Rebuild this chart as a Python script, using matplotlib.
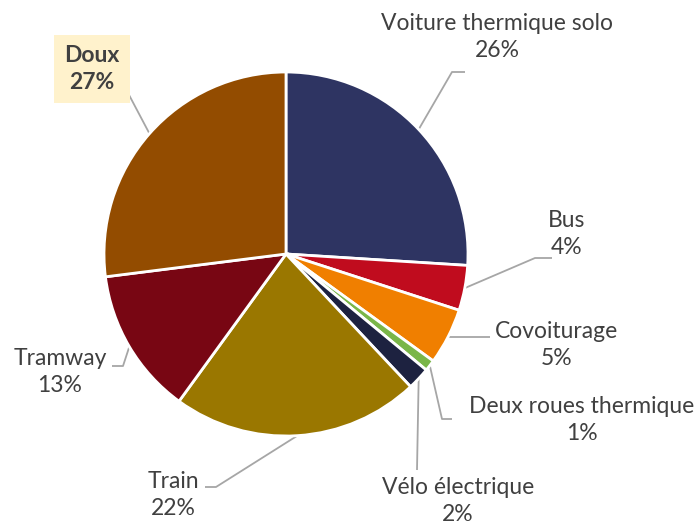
import numpy as np
import matplotlib
matplotlib.use("Agg")
import matplotlib.pyplot as plt

labels = ["Voiture thermique solo", "Bus", "Covoiturage", "Deux roues thermique",
          "Vélo électrique", "Train", "Tramway", "Doux"]
values = [26, 4, 5, 1, 2, 22, 13, 27]
colors = ["#2E3462", "#C00C1E", "#F07F00", "#7AB648",
          "#1D2240", "#9A7700", "#780613", "#934C00"]

# label text centres and leader elbows (pixel coords, y from top)
label_pos = [(497, 37), (567, 234), (557, 345), (582, 420),
             (458, 501), (173, 495), (60, 372), (92, 69)]
elbows = [[(465, 72), (452, 72)], [(552, 258), (535, 258)], [(490, 337), (450, 337)],
          [(452, 419), (442, 419)], [(417, 470), (417, 470)], [(205, 487), (216, 487)],
          [(112, 366), (123, 366)], [(128, 93), (128, 93)]]

W, H = 699, 524
cx, cy, R = 286, 254, 182

fig = plt.figure(figsize=(W / 100, H / 100), dpi=100)
ax = fig.add_axes([0, 0, 1, 1])

wedges, _ = ax.pie(values, colors=colors, startangle=90, counterclock=False,
                   center=(cx, H - cy), radius=R, frame=False,
                   wedgeprops=dict(edgecolor="white", linewidth=2))
ax.set_aspect("auto")
ax.set_xlim(0, W)
ax.set_ylim(0, H)
ax.axis("off")

txt = "#404040"
line_c = "#A6A6A6"
font = "Lato"
start = 90.0
tot = sum(values)
for i, v in enumerate(values):
    ang = np.deg2rad(start - 360 * (v / 2) / tot)
    start -= 360 * v / tot
    ex, ey = cx + R * np.cos(ang), cy - R * np.sin(ang)
    pts = elbows[i] + [(ex, ey)]
    ax.plot([p[0] for p in pts], [H - p[1] for p in pts], color=line_c, lw=1.3,
            solid_capstyle="butt", zorder=0)
    lx, ly = label_pos[i]
    s = f"{labels[i]}\n{v}%"
    if labels[i] == "Doux":
        ax.text(lx, H - ly, s, ha="center", va="center", fontsize=16.5, color=txt,
                family=font, fontweight="bold", linespacing=1.3,
                bbox=dict(boxstyle="square,pad=0.45", fc="#FFF2CC", ec="none"))
    else:
        ax.text(lx, H - ly, s, ha="center", va="center", fontsize=16.5, color=txt,
                family=font, linespacing=1.3)

fig.savefig("out.png", dpi=100)
